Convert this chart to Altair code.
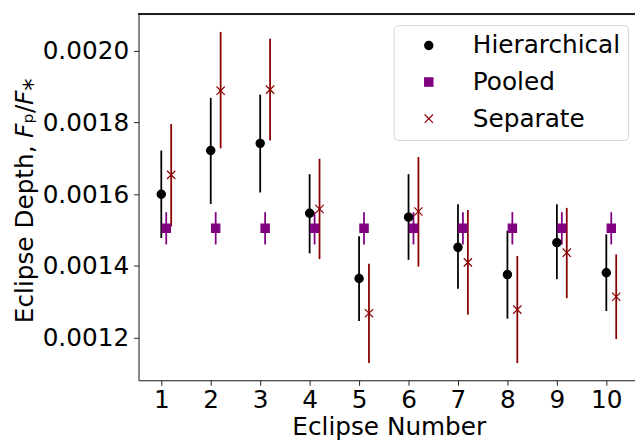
import altair as alt
import pandas as pd

eclipse = [1, 2, 3, 4, 5, 6, 7, 8, 9, 10]

hier = [0.001600, 0.001722, 0.001742, 0.001547, 0.001365, 0.001536, 0.001452, 0.001376, 0.001465, 0.001381]
hier_lo = [0.001478, 0.001573, 0.001605, 0.001435, 0.001246, 0.001417, 0.001336, 0.001253, 0.001363, 0.001274]
hier_hi = [0.001722, 0.001869, 0.001878, 0.001656, 0.001483, 0.001656, 0.001572, 0.001498, 0.001572, 0.001488]

pooled = [0.001505] * 10
pooled_lo = [0.001460] * 10
pooled_hi = [0.001550] * 10

sep = [0.001654, 0.001889, 0.001892, 0.001559, 0.001268, 0.001552, 0.001410, 0.001278, 0.001437, 0.001314]
sep_lo = [0.001510, 0.001728, 0.001750, 0.001419, 0.001129, 0.001398, 0.001264, 0.001129, 0.001310, 0.001196]
sep_hi = [0.001796, 0.002053, 0.002034, 0.001699, 0.001406, 0.001704, 0.001556, 0.001428, 0.001562, 0.001432]

series_names = ["Hierarchical", "Pooled", "Separate"]
series_colors = ["black", "purple", "darkred"]
series_fill = ["black", "purple", "transparent"]
series_shapes = ["circle", "square", "M-1,-1L1,1M1,-1L-1,1"]
series_stroke_w = [1.2, 1.2, 2.0]
x_offsets = [0.0, 0.1, 0.2]

y_ticks = [0.0012, 0.0014, 0.0016, 0.0018, 0.0020]

values = {
    "Hierarchical": (hier, hier_lo, hier_hi),
    "Pooled": (pooled, pooled_lo, pooled_hi),
    "Separate": (sep, sep_lo, sep_hi),
}

rows = []
for name, off in zip(series_names, x_offsets):
    v, lo, hi = values[name]
    for i, e in enumerate(eclipse):
        rows.append({"series": name, "bar": name, "x": e + off, "y": v[i], "lo": lo[i], "hi": hi[i]})
df = pd.DataFrame(rows)

W, H = 502, 370
FONT = "DejaVu Sans"

xs = alt.Scale(domain=[0.54, 10.58], nice=False, zero=False)
ys = alt.Scale(domain=[0.001081, 0.002102], nice=False, zero=False)

x_axis = alt.Axis(values=eclipse, format="d", title="Eclipse Number", grid=False,
                  labelFontSize=25, titleFontSize=25, labelFont=FONT, titleFont=FONT,
                  labelColor="black", titleColor="black", tickSize=5, tickColor="#222",
                  tickWidth=1, domainColor="#222", domainWidth=1, labelPadding=3,
                  labelFlush=False, labelOverlap=False,
                  titleX=253, titleY=55, titleBaseline="alphabetic", titleFontWeight="normal")
y_axis = alt.Axis(values=y_ticks, format=".4f", title="Eclipse Depth, 𝘍ₚ/𝘍⁎", grid=False,
                  labelFontSize=25, titleFontSize=25, labelFont=FONT, titleFont=FONT,
                  labelColor="black", titleColor="black", tickSize=5, tickColor="#222",
                  tickWidth=1, domainColor="#222", domainWidth=1, labelPadding=5,
                  labelFlush=False, labelOverlap=False,
                  titleX=-107, titleY=188, titleAngle=270, titleBaseline="alphabetic",
                  titleFontWeight="normal")

legend = alt.Legend(title=None, orient="none", legendX=258, legendY=11, padding=8,
                    symbolOffset=15, labelOffset=32, rowPadding=11, labelFontSize=25,
                    labelFont=FONT, labelColor="black", strokeColor="#d4d4d4",
                    fillColor="rgba(255,255,255,0.8)", cornerRadius=4, symbolSize=70,
                    symbolStrokeWidth=1.6)

bar_scale = alt.Scale(domain=series_names, range=series_colors)

rules = []
for name in series_names:
    rules.append(
        alt.Chart(df).transform_filter(alt.datum.series == name).mark_rule(strokeWidth=1.8).encode(
            x=alt.X("x:Q", scale=xs, axis=x_axis),
            y=alt.Y("lo:Q", scale=ys, axis=y_axis),
            y2="hi:Q",
            color=alt.Color("bar:N", scale=bar_scale, legend=None),
        )
    )

points = alt.Chart(df).mark_point(size=70, opacity=1).encode(
    x=alt.X("x:Q", scale=xs, axis=x_axis),
    y=alt.Y("y:Q", scale=ys, axis=y_axis),
    fill=alt.Fill("series:N", scale=alt.Scale(domain=series_names, range=series_fill), legend=legend),
    stroke=alt.Stroke("series:N", scale=alt.Scale(domain=series_names, range=series_colors), legend=legend),
    shape=alt.Shape("series:N", scale=alt.Scale(domain=series_names, range=series_shapes), legend=legend),
    strokeWidth=alt.StrokeWidth("bar:N", scale=alt.Scale(domain=series_names, range=series_stroke_w), legend=None),
)

top_spine = alt.Chart(df).mark_rule(color="#222", strokeWidth=1).encode(
    x=alt.value(0), x2=alt.value(W), y=alt.value(0)
)

chart = alt.layer(*rules, points, top_spine).resolve_scale(color="independent").properties(
    width=W, height=H, autosize="none",
    padding={"left": 132, "top": 4, "right": 0, "bottom": 58},
).configure_view(stroke=None).configure(background="white")

chart.save("out.html", embed_options={"renderer": "svg", "actions": False})
